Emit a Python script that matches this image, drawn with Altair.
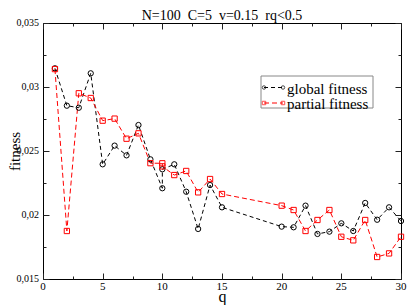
import altair as alt
import pandas as pd

title_text = "N=100\u00a0\u00a0C=5\u00a0\u00a0v=0.15\u00a0\u00a0rq<0.5"
series_names = ["global fitness", "partial fitness"]

q_vals = [1, 2, 3, 4, 5, 6, 7, 8, 9, 10, 10, 11, 12, 13, 14, 15,
          20, 21, 22, 23, 24, 25, 26, 27, 28, 29, 30]
global_fit = [0.03146, 0.02854, 0.02838, 0.03107, 0.02396, 0.02542, 0.02466,
              0.02703, 0.02435, 0.02209, 0.02357, 0.02396, 0.02182, 0.01891,
              0.02234, 0.02060, 0.01909, 0.01904, 0.02073, 0.01852, 0.01870,
              0.01935, 0.01875, 0.02094, 0.01963, 0.02060, 0.01953]
partial_fit = [0.03140, 0.01875, 0.02951, 0.02914, 0.02737, 0.02753, 0.02596,
               0.02638, 0.02405, 0.02404, 0.02380, 0.02312, 0.02344, 0.02177,
               0.02281, 0.02164, 0.02073, 0.02039, 0.01875, 0.01961, 0.02039,
               0.01830, 0.01802, 0.01961, 0.01672, 0.01700, 0.01830]

x_major = [0, 5, 10, 15, 20, 25, 30]
x_tick_labels = ["0", "5", "10", "15", "20", "25", "30"]
x_minor = [2.5, 7.5, 12.5, 17.5, 22.5, 27.5]
y_major = [0.015, 0.02, 0.025, 0.03, 0.035]
y_tick_labels = ["0,015", "0,02", "0,025", "0,03", "0,035"]
y_minor = [0.0175, 0.0225, 0.0275, 0.0325]

rows = []
for i, (q, g) in enumerate(zip(q_vals, global_fit)):
    rows.append({"series": series_names[0], "q": q, "fitness": g, "idx": i})
for i, (q, p) in enumerate(zip(q_vals, partial_fit)):
    rows.append({"series": series_names[1], "q": q, "fitness": p, "idx": i})
df = pd.DataFrame(rows)

xs = alt.Scale(domain=[0, 30], nice=False, zero=False)
ys = alt.Scale(domain=[0.015, 0.035], nice=False, zero=False)

FONT = "Liberation Serif"
TC = "#222222"
W, H = 358, 256


def ax(**kw):
    base = dict(grid=False, domain=False, tickColor=TC, labels=False,
                titleFont=FONT, titleColor="black", title=None)
    base.update(kw)
    return alt.Axis(**base)


x_title_ax = ax(orient="bottom", ticks=False, values=x_major, title="q", titleFontSize=16,
                titleFontWeight="normal", titlePadding=9)
y_title_ax = ax(orient="left", ticks=False, values=y_major, title="fitness",
                titleFontSize=15, titleFontWeight="normal", titleX=-21)
x_maj_b = ax(orient="bottom", values=x_major, tickSize=6, offset=-6)
y_maj_l = ax(orient="left", values=y_major, tickSize=6, offset=-6)
x_min_b = ax(orient="bottom", values=x_minor, tickSize=3, offset=-3)
y_min_l = ax(orient="left", values=y_minor, tickSize=3, offset=-3)
x_maj_t = ax(orient="top", values=x_major, tickSize=6, offset=-6)
y_maj_r = ax(orient="right", values=y_major, tickSize=6, offset=-6)
x_min_t = ax(orient="top", values=x_minor, tickSize=3, offset=-3)
y_min_r = ax(orient="right", values=y_minor, tickSize=3, offset=-3)

base = alt.Chart(df)

line_g = base.transform_filter(alt.datum.series == series_names[0]).mark_line(
    color="black", strokeDash=[4, 3], strokeWidth=1
).encode(
    x=alt.X("q:Q", scale=xs, axis=x_title_ax),
    y=alt.Y("fitness:Q", scale=ys, axis=y_title_ax),
    order="idx:Q",
)

line_p = base.transform_filter(alt.datum.series == series_names[1]).mark_line(
    color="#ff0000", strokeDash=[5, 3], strokeWidth=1
).encode(
    x=alt.X("q:Q", scale=xs, axis=x_maj_b),
    y=alt.Y("fitness:Q", scale=ys, axis=y_maj_l),
    order="idx:Q",
)

pts = base.mark_point(filled=False, strokeWidth=1, size=28, opacity=1).encode(
    x=alt.X("q:Q", scale=xs, axis=x_min_b),
    y=alt.Y("fitness:Q", scale=ys, axis=y_min_l),
    color=alt.Color("series:N",
                    scale=alt.Scale(domain=series_names, range=["black", "#ff0000"]),
                    legend=None),
    shape=alt.Shape("series:N",
                    scale=alt.Scale(domain=series_names, range=["circle", "square"]),
                    legend=None),
)

inv1 = base.mark_point(opacity=0).encode(
    x=alt.X("q:Q", scale=xs, axis=x_maj_t),
    y=alt.Y("fitness:Q", scale=ys, axis=y_maj_r),
)
inv2 = base.mark_point(opacity=0).encode(
    x=alt.X("q:Q", scale=xs, axis=x_min_t),
    y=alt.Y("fitness:Q", scale=ys, axis=y_min_r),
)

# tick labels as text
xlab = alt.Chart(pd.DataFrame({"v": x_major, "lab": x_tick_labels})).mark_text(
    font=FONT, fontSize=11, baseline="top", align="center", color="black"
).encode(x=alt.X("v:Q", scale=xs, axis=None), y=alt.value(H + 2), text="lab:N")

ylab = alt.Chart(pd.DataFrame({"v": y_major, "lab": y_tick_labels})).mark_text(
    font=FONT, fontSize=10, baseline="middle", align="right", color="black"
).encode(y=alt.Y("v:Q", scale=ys, axis=None), x=alt.value(-4), text="lab:N")

# legend (box, line samples, symbols, labels)
leg_df = pd.DataFrame({"series": series_names, "row": [0, 1]})
LX0, LX1, LY0, LY1 = 218, 330, 53, 85
ROW_Y = [64.5, 80]
leg_box = alt.Chart(pd.DataFrame({"a": [0]})).mark_rect(
    fill="white", stroke="#888888", strokeWidth=1
).encode(x=alt.value(LX0), x2=alt.value(LX1), y=alt.value(LY0), y2=alt.value(LY1))

leg_parts = []
for i, s in enumerate(series_names):
    col = "black" if i == 0 else "#ff0000"
    shp = "circle" if i == 0 else "square"
    dash = [4, 3] if i == 0 else [5, 3]
    one = alt.Chart(leg_df[leg_df.row == i])
    leg_parts.append(one.mark_rule(color=col, strokeDash=dash, strokeWidth=1).encode(
        x=alt.value(221), x2=alt.value(240), y=alt.value(ROW_Y[i])))
    leg_parts.append(one.mark_point(shape=shp, filled=False, color=col, size=12,
                                    strokeWidth=1).encode(x=alt.value(221), y=alt.value(ROW_Y[i])))
    leg_parts.append(one.mark_point(shape=shp, filled=False, color=col, size=12,
                                    strokeWidth=1).encode(x=alt.value(240), y=alt.value(ROW_Y[i])))
    leg_parts.append(one.mark_text(font=FONT, fontSize=15, align="left", baseline="middle",
                                   color="black").encode(
        x=alt.value(244), y=alt.value(ROW_Y[i] + 1), text="series:N"))

chart = alt.layer(line_g, line_p, pts, inv1, inv2, xlab, ylab, leg_box, *leg_parts).resolve_axis(
    x="independent", y="independent"
).properties(
    width=W, height=H,
    autosize=alt.AutoSizeParams(type="none"),
    padding={"left": 35, "top": 15, "right": 6, "bottom": 32},
    title=alt.TitleParams(title_text, font=FONT, fontSize=14, fontWeight="normal",
                          color="black", offset=-16, baseline="alphabetic", anchor="middle"),
).configure_view(
    stroke="black", strokeWidth=1
)

chart.save("out.html", embed_options={"renderer": "svg", "actions": False})
